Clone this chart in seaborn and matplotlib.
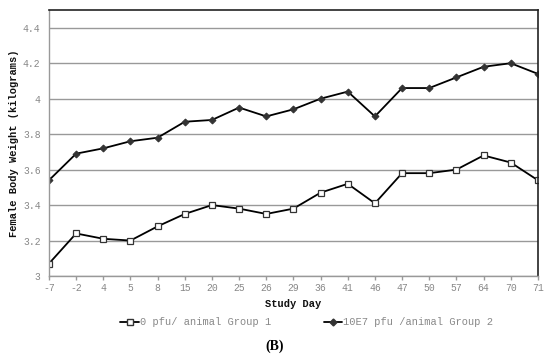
import matplotlib
matplotlib.use("Agg")
import matplotlib.pyplot as plt
import seaborn as sns
import pandas as pd
from matplotlib.lines import Line2D

days = ["-7", "-2", "4", "5", "8", "15", "20", "25", "26", "29", "36", "41",
        "46", "47", "50", "57", "64", "70", "71"]
group1 = [3.07, 3.24, 3.21, 3.20, 3.28, 3.35, 3.40, 3.38, 3.35, 3.38, 3.47, 3.52,
          3.41, 3.58, 3.58, 3.60, 3.68, 3.64, 3.54]
group2 = [3.54, 3.69, 3.72, 3.76, 3.78, 3.87, 3.88, 3.95, 3.90, 3.94, 4.00, 4.04,
          3.90, 4.06, 4.06, 4.12, 4.18, 4.20, 4.14]
series_names = ["0 pfu/ animal Group 1", "10E7 pfu /animal Group 2"]
yticks = [3, 3.2, 3.4, 3.6, 3.8, 4, 4.2, 4.4]
ytick_labels = ["3", "3.2", "3.4", "3.6", "3.8", "4", "4.2", "4.4"]

df = pd.DataFrame({
    "day": pd.Categorical(days * 2, categories=days, ordered=True),
    "weight": group1 + group2,
    "group": [series_names[0]] * len(days) + [series_names[1]] * len(days),
})

sns.set_theme(style="white")
plt.rcParams["font.family"] = ["Liberation Mono", "DejaVu Sans Mono"]

fig = plt.figure(figsize=(5.5, 3.58), dpi=100)
ax = fig.add_axes([0.089, 0.229, 0.889, 0.743])

sns.lineplot(data=df, x="day", y="weight", hue="group", style="group",
             markers=["s", "D"], dashes=False, palette=["black", "black"],
             linewidth=1.3, ax=ax, legend=False, sort=False)

lines = ax.get_lines()
lines[0].set_markerfacecolor("white")
lines[0].set_markeredgecolor("#333333")
lines[0].set_markersize(5)
lines[0].set_markeredgewidth(0.9)
lines[1].set_markerfacecolor("#333333")
lines[1].set_markeredgecolor("#333333")
lines[1].set_markersize(3.5)

ax.set_xlim(0, len(days) - 1)
ax.set_ylim(3, 4.5)
ax.set_yticks(yticks)
ax.set_yticklabels(ytick_labels)
ax.grid(axis="y", color="#999999", linewidth=1.0)
ax.set_axisbelow(True)

for s in ["left", "bottom"]:
    ax.spines[s].set_color("#999999")
    ax.spines[s].set_linewidth(1.0)
for s in ["top", "right"]:
    ax.spines[s].set_color("#222222")
    ax.spines[s].set_linewidth(1.2)

ax.tick_params(axis="both", colors="#999999", labelcolor="#888888", labelsize=7,
               length=3, width=1.0, direction="out")
ax.tick_params(axis="y", pad=3)
ax.tick_params(axis="x", bottom=True, pad=2)

ax.set_xlabel("Study Day", fontsize=7.5, fontweight="bold", color="#111111", labelpad=4)
ax.set_ylabel("Female Body Weight (kilograms)", fontsize=7.5, fontweight="bold",
              color="#111111", labelpad=3)

handles = [
    Line2D([], [], color="black", marker="s", markerfacecolor="white",
           markeredgecolor="#333333", markersize=5, linewidth=1.3),
    Line2D([], [], color="black", marker="D", markerfacecolor="#333333",
           markeredgecolor="#333333", markersize=3.5, linewidth=1.3),
]
leg = fig.legend(handles, series_names, loc="center", bbox_to_anchor=(0.558, 0.1),
                 ncol=2, frameon=False, fontsize=7.5, handlelength=1.8,
                 handletextpad=0.1, columnspacing=5)
for t in leg.get_texts():
    t.set_color("#888888")

fig.text(0.5, 0.033, "(B)", ha="center", va="center", fontsize=10,
         fontweight="bold", family="Liberation Serif", color="black")

fig.savefig("out.png", dpi=100)
